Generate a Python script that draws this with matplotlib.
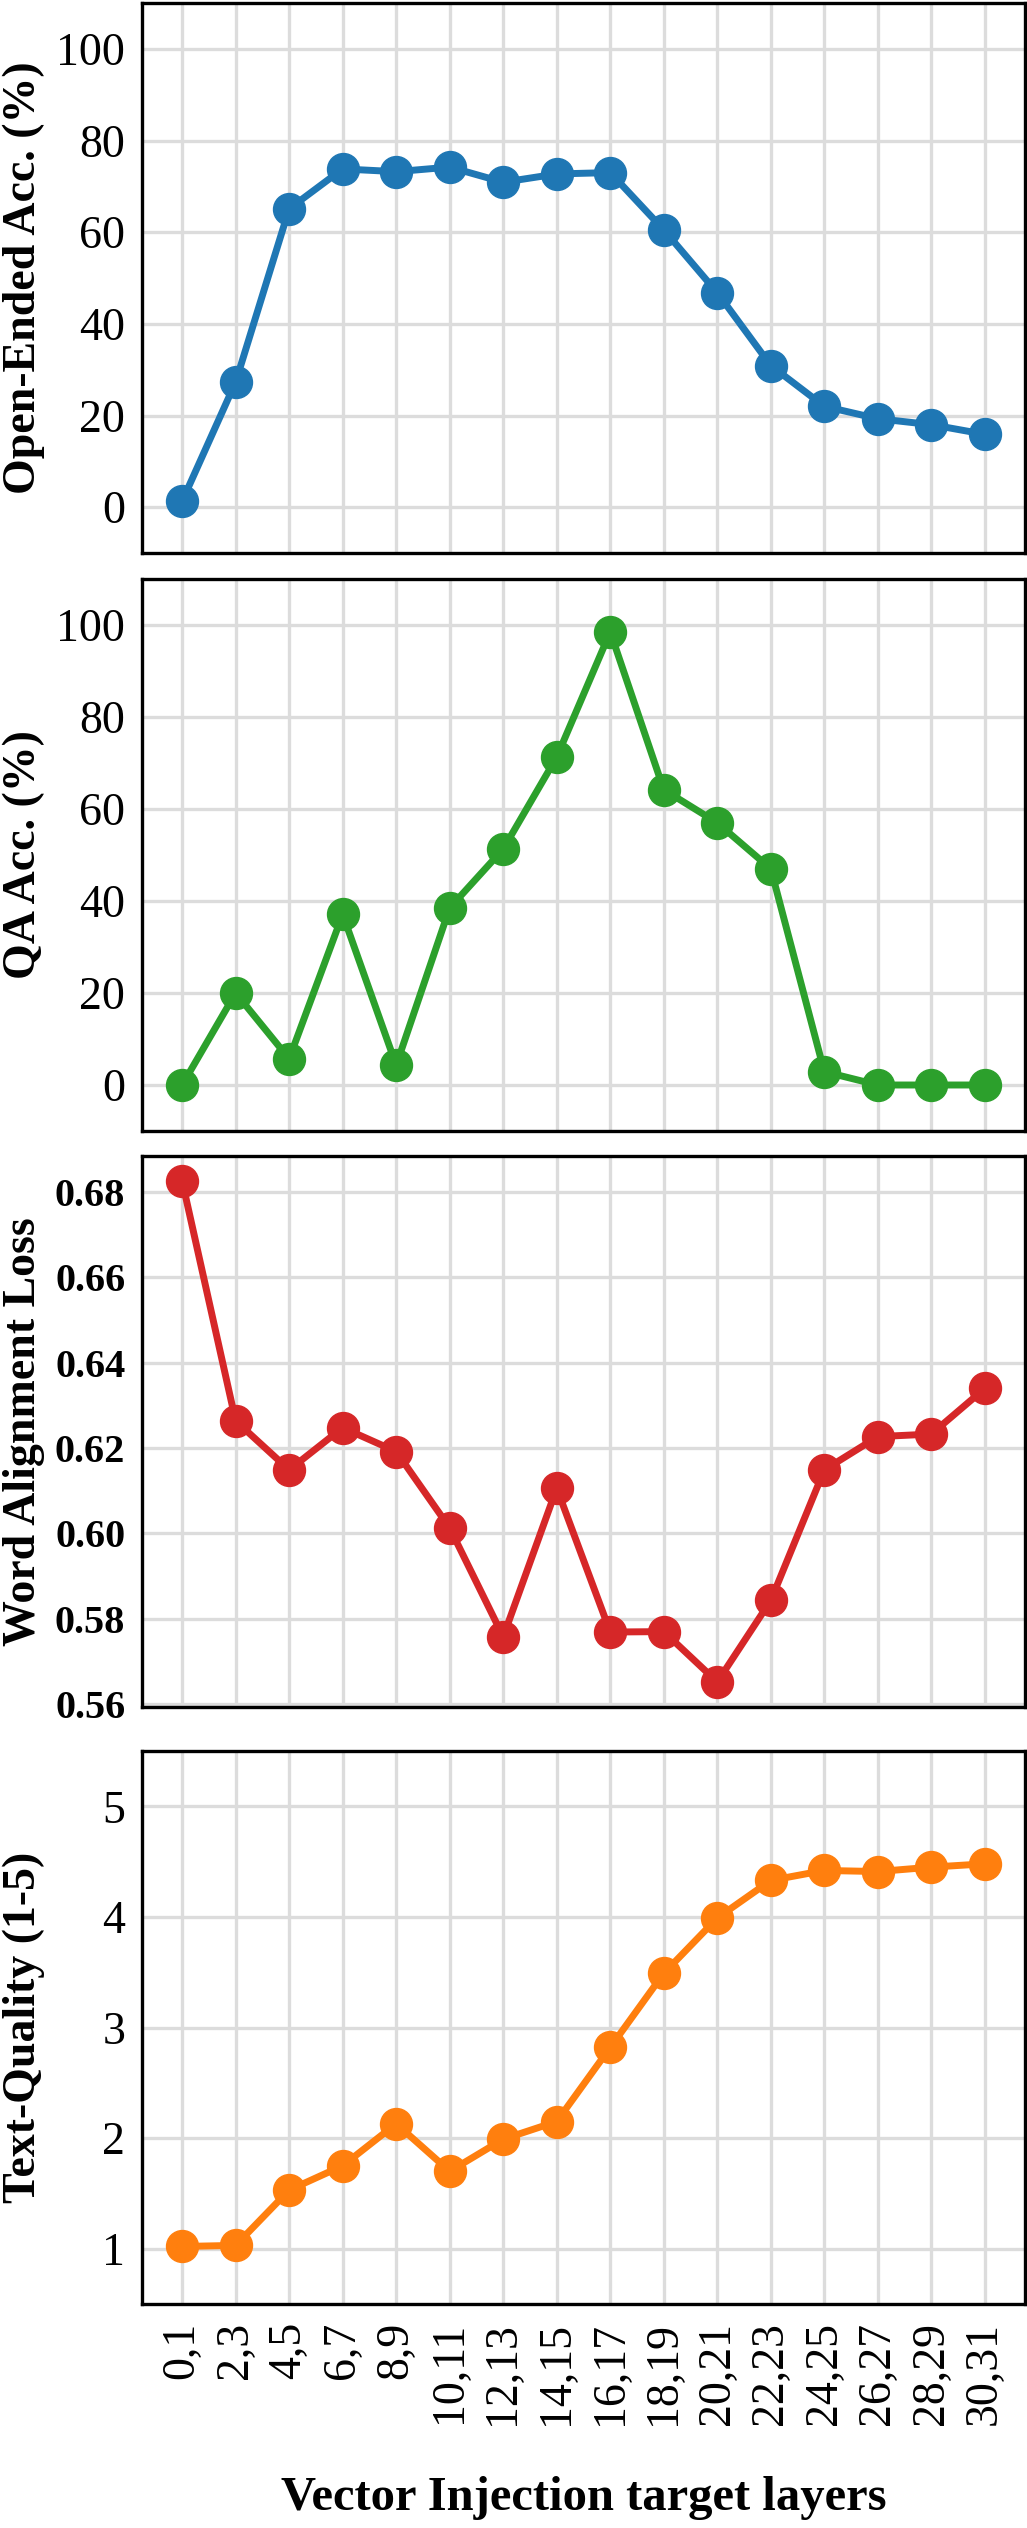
import matplotlib
matplotlib.use("Agg")
import matplotlib.pyplot as plt
from matplotlib.ticker import FormatStrFormatter

plt.rcParams['font.family'] = ['Liberation Serif', 'DejaVu Serif']

layers = ['0,1', '2,3', '4,5', '6,7', '8,9', '10,11', '12,13', '14,15',
          '16,17', '18,19', '20,21', '22,23', '24,25', '26,27', '28,29', '30,31']

open_ended_acc = [1.3, 27.3, 65.1, 73.8, 73.2, 74.2, 70.9, 72.7,
                  73.0, 60.5, 46.8, 30.9, 22.0, 19.3, 18.0, 15.9]
qa_acc = [0.0, 20.0, 5.7, 37.1, 4.3, 38.5, 51.3, 71.3,
          98.5, 64.2, 57.0, 47.0, 2.9, 0.0, 0.0, 0.0]
word_align_loss = [0.6826, 0.6264, 0.6149, 0.6248, 0.6192, 0.6013, 0.5758, 0.6106,
                   0.5769, 0.5770, 0.5652, 0.5843, 0.6149, 0.6227, 0.6233, 0.6340]
text_quality = [1.02, 1.03, 1.53, 1.75, 2.13, 1.70, 1.99, 2.15,
                2.82, 3.49, 3.99, 4.33, 4.42, 4.41, 4.45, 4.48]

W, H = 1027, 2528
fig = plt.figure(figsize=(W / 100, H / 100), dpi=100, facecolor='white')

# panel boxes in pixels: (top, bottom)
boxes = [(3, 553), (579, 1131), (1156, 1707), (1751, 2304)]
left_px, right_px = 142, 1025

panels = [
    (open_ended_acc, '#1f77b4', 'Open-Ended Acc. (%)'),
    (qa_acc, '#2ca02c', 'QA Acc. (%)'),
    (word_align_loss, '#d62728', 'Word Alignment Loss'),
    (text_quality, '#ff7f0e', 'Text-Quality (1-5)'),
]

x = list(range(len(layers)))
axes = []
for (top, bot), (vals, col, lab) in zip(boxes, panels):
    ax = fig.add_axes([left_px / W, 1 - bot / H, (right_px - left_px) / W, (bot - top) / H])
    ax.plot(x, vals, color=col, lw=5, marker='o', ms=23, zorder=3)
    ax.set_xticks(x)
    ax.grid(True, color='#dcdcdc', lw=2.4, zorder=0)
    ax.set_axisbelow(True)
    for s in ax.spines.values():
        s.set_color('black')
        s.set_linewidth(2.4)
    ax.tick_params(length=0, labelsize=33, pad=12)
    fig.text(24 / W, 1 - (top + bot) / 2 / H, lab, rotation=90, ha='center', va='center',
             fontsize=33, fontweight='bold')
    axes.append(ax)

for ax in axes[:3]:
    ax.set_xticklabels([])

axes[0].set_ylim(-10, 110)
axes[0].set_yticks([0, 20, 40, 60, 80, 100])
axes[1].set_ylim(-10, 110)
axes[1].set_yticks([0, 20, 40, 60, 80, 100])
axes[2].set_yticks([0.56, 0.58, 0.60, 0.62, 0.64, 0.66, 0.68])
axes[2].yaxis.set_major_formatter(FormatStrFormatter('%.2f'))
axes[2].tick_params(axis='y', labelsize=29)
for t in axes[2].get_yticklabels():
    t.set_fontweight('bold')
axes[3].set_ylim(0.5, 5.5)
axes[3].set_yticks([1, 2, 3, 4, 5])
axes[3].set_xticklabels(layers, rotation=90)
axes[3].tick_params(axis='x', pad=13)

fig.text((left_px + right_px) / 2 / W, 1 - 2498 / H, 'Vector Injection target layers',
         ha='center', va='center', fontsize=35, fontweight='bold')

fig.savefig('out.png', dpi=100, facecolor='white')
